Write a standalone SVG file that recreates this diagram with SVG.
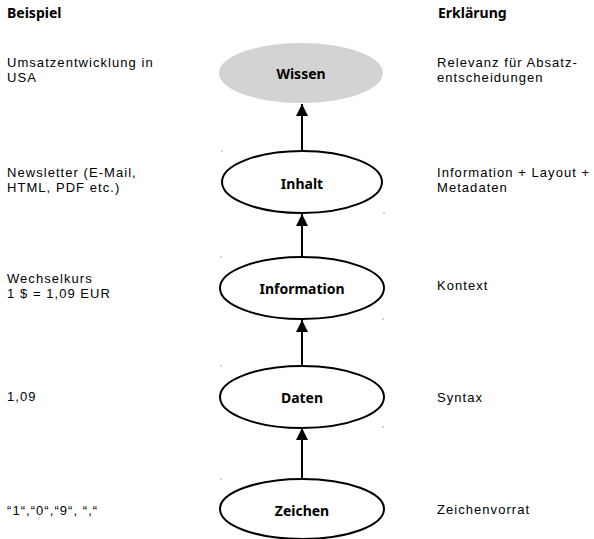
<svg xmlns="http://www.w3.org/2000/svg" width="594" height="539" viewBox="0 0 594 539">
<style>
text{font-family:"Liberation Sans",Arial,sans-serif;font-size:13px;letter-spacing:1.05px;fill:#000}
.h{font-family:"Noto Sans","Open Sans",sans-serif;font-weight:bold;font-size:14px;letter-spacing:0}
.lbl{font-family:"Noto Sans","Open Sans",sans-serif;font-weight:bold;font-size:14px;letter-spacing:0;text-anchor:middle}
.node{fill:#fff;stroke:#000;stroke-width:2}
.edge{stroke:#000;stroke-width:2;fill:none}
.dot{fill:#555}
</style>
<defs>
<marker id="ah" markerWidth="6" markerHeight="6" refX="6" refY="3" orient="auto" markerUnits="strokeWidth">
<path d="M0,0 L6,3 L0,6 Z" fill="#000"/>
</marker>
</defs>
<rect width="594" height="539" fill="#fff"/>
<g id="headers">
<text class="h" x="7" y="18">Beispiel</text>
<text class="h" x="438" y="18">Erklärung</text>
</g>
<g id="examples">
<text x="7" y="67">Umsatzentwicklung in</text>
<text x="7" y="82">USA</text>
<text x="7" y="177">Newsletter (E-Mail,</text>
<text x="7" y="192">HTML, PDF etc.)</text>
<text x="7" y="283">Wechselkurs</text>
<text x="7" y="298">1 $ = 1,09 EUR</text>
<text x="7" y="401">1,09</text>
<text x="7" y="515">“1“,“0“,“9“, “,“</text>
</g>
<g id="explanations">
<text x="437" y="67">Relevanz für Absatz-</text>
<text x="437" y="82">entscheidungen</text>
<text x="437" y="177">Information + Layout +</text>
<text x="437" y="192">Metadaten</text>
<text x="437" y="290">Kontext</text>
<text x="437" y="402">Syntax</text>
<text x="437" y="514">Zeichenvorrat</text>
</g>
<g id="connectors">
<line class="edge" x1="302" y1="150" x2="302" y2="104" marker-end="url(#ah)"/>
<line class="edge" x1="302" y1="257" x2="302" y2="214" marker-end="url(#ah)"/>
<line class="edge" x1="302" y1="366" x2="302" y2="320" marker-end="url(#ah)"/>
<line class="edge" x1="302" y1="479" x2="302" y2="428" marker-end="url(#ah)"/>
</g>
<g id="wissen">
<ellipse cx="301" cy="73" rx="82" ry="30" fill="#d3d3d3"/>
<text class="lbl" x="301" y="79">Wissen</text>
</g>
<g id="inhalt">
<ellipse class="node" cx="302" cy="182" rx="80" ry="31"/>
<text class="lbl" x="302" y="189">Inhalt</text>
</g>
<g id="information">
<ellipse class="node" cx="302" cy="288" rx="82" ry="31"/>
<text class="lbl" x="302" y="294">Information</text>
</g>
<g id="daten">
<ellipse class="node" cx="302" cy="397" rx="82" ry="31"/>
<text class="lbl" x="302" y="403">Daten</text>
</g>
<g id="zeichen">
<ellipse class="node" cx="302" cy="509" rx="82" ry="30"/>
<text class="lbl" x="302" y="516">Zeichen</text>
</g>
<g id="marks">
<rect class="dot" x="221.5" y="150.5" width="1" height="1"/>
<rect class="dot" x="383.5" y="212.5" width="1" height="1"/>
<rect class="dot" x="220.5" y="256.5" width="1" height="1"/>
<rect class="dot" x="382.5" y="318.5" width="1" height="1"/>
<rect class="dot" x="220.5" y="365.5" width="1" height="1"/>
<rect class="dot" x="382.5" y="426.5" width="1" height="1"/>
<rect class="dot" x="220.5" y="478.5" width="1" height="1"/>
</g>
</svg>
